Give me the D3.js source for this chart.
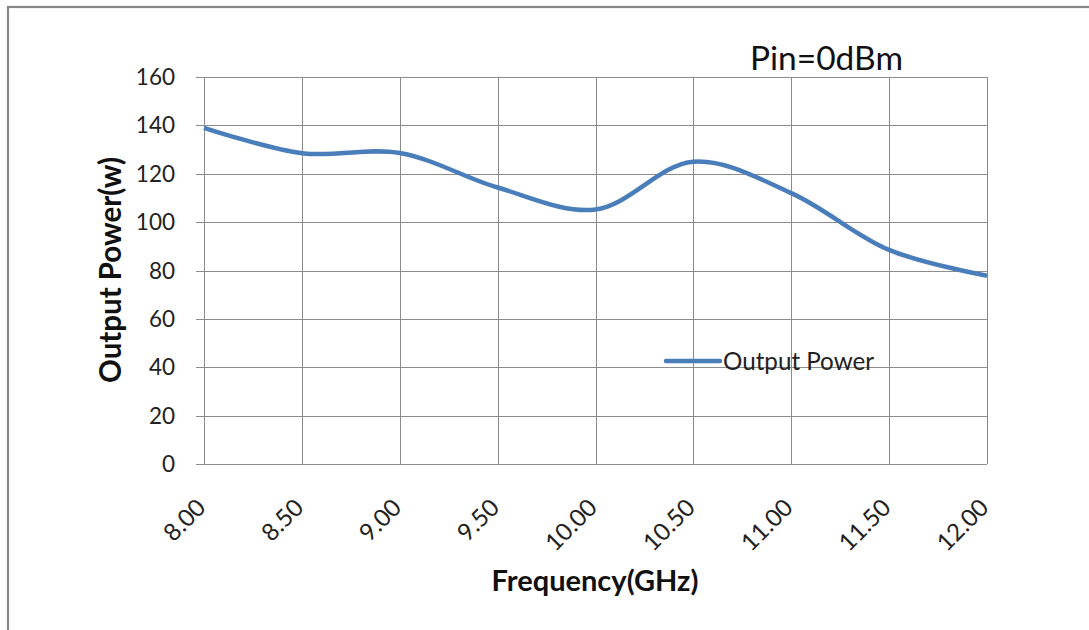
<!DOCTYPE html>
<html><head><meta charset="utf-8">
<script src="https://cdn.jsdelivr.net/npm/d3@7"></script>
<style>body{margin:0;background:#fff}svg{display:block}</style>
</head><body>
<svg id="c" width="1089" height="630"></svg>
<script>
const freqs = [8.0, 8.5, 9.0, 9.5, 10.0, 10.5, 11.0, 11.5, 12.0];
const power = [139, 128.5, 128.6, 114.3, 105.2, 125.0, 112.0, 88.5, 77.8];
const xTicks = [8.0, 8.5, 9.0, 9.5, 10.0, 10.5, 11.0, 11.5, 12.0];
const yTicks = [0, 20, 40, 60, 80, 100, 120, 140, 160];
const seriesName = "Output Power";
const annotation = "Pin=0dBm";

const svg = d3.select("#c");
const font = "Lato, 'Open Sans', sans-serif";
const L = 204, R = 987, T = 77, B = 464;
const x = d3.scaleLinear().domain([8, 12]).range([L, R]);
const y = d3.scaleLinear().domain([0, 160]).range([B, T]);

// outer frame
svg.append("rect").attr("x", 8).attr("y", 7).attr("width", 1089).attr("height", 640)
  .attr("fill", "none").attr("stroke", "#878787").attr("stroke-width", 2.2);

const g = svg.append("g");
g.selectAll("line.h").data(yTicks).join("line")
  .attr("x1", L - 8).attr("x2", R).attr("y1", d => Math.round(y(d)) + 0.5).attr("y2", d => Math.round(y(d)) + 0.5)
  .attr("stroke", "#8c8c8c").attr("stroke-width", 1);
g.selectAll("line.v").data(xTicks).join("line")
  .attr("x1", d => Math.round(x(d)) + 0.5).attr("x2", d => Math.round(x(d)) + 0.5).attr("y1", T).attr("y2", B)
  .attr("stroke", "#8c8c8c").attr("stroke-width", 1);

g.selectAll("text.yl").data(yTicks).join("text")
  .attr("x", 175).attr("y", d => y(d)).attr("dy", "0.36em").attr("text-anchor", "end")
  .attr("font-family", font).attr("font-size", 22.5).attr("fill", "#222").text(d => d);

g.selectAll("text.xl").data(xTicks).join("text")
  .attr("transform", d => `translate(${x(d) - 3},${B + 39}) rotate(-45)`)
  .attr("text-anchor", "end").attr("dy", "0.36em")
  .attr("font-family", font).attr("font-size", 24).attr("fill", "#222").text(d => d.toFixed(2));

const line = d3.line().x((d, i) => x(freqs[i])).y(d => y(d)).curve(d3.curveCatmullRom.alpha(0.5));
g.append("path").datum(power).attr("d", line).attr("fill", "none")
  .attr("stroke", "#4a7ebb").attr("stroke-width", 4.5).attr("stroke-linejoin", "round");

g.append("line").attr("x1", 666).attr("x2", 720).attr("y1", 361).attr("y2", 361)
  .attr("stroke", "#4a7ebb").attr("stroke-width", 4.5).attr("stroke-linecap", "round");
g.append("text").attr("x", 723).attr("y", 361).attr("dy", "0.36em")
  .attr("font-family", font).attr("font-size", 24.2).attr("fill", "#222").text(seriesName);

svg.append("text").attr("x", 750).attr("y", 70)
  .attr("font-family", font).attr("font-size", 33.5).attr("fill", "#111").text(annotation);

svg.append("text").attr("x", 595).attr("y", 591).attr("text-anchor", "middle")
  .attr("font-family", font).attr("font-weight", "bold").attr("font-size", 29).attr("fill", "#111")
  .text("Frequency(GHz)");
svg.append("text").attr("transform", "translate(121,270) rotate(-90)").attr("text-anchor", "middle")
  .attr("font-family", font).attr("font-weight", "bold").attr("font-size", 29.5).attr("fill", "#111")
  .text("Output Power(w)");
</script>
</body></html>
